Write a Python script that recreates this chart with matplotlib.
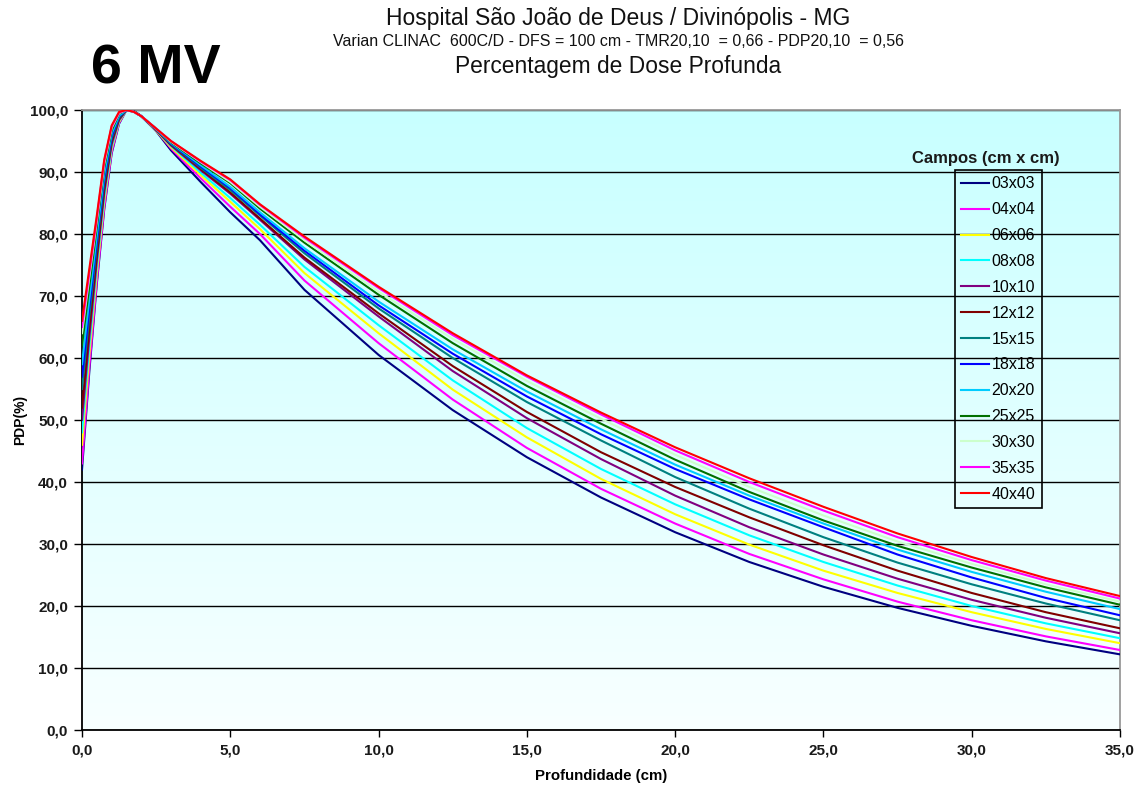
import numpy as np
import matplotlib
matplotlib.use("Agg")
import matplotlib.pyplot as plt
from matplotlib.ticker import FuncFormatter, MultipleLocator

plt.rcParams['font.family'] = ['Liberation Sans', 'DejaVu Sans']

# Depth (cm)
depth = [0, 0.25, 0.5, 0.75, 1.0, 1.25, 1.5, 1.75, 2.0, 2.5, 3.0, 4.0, 5.0, 6.0, 7.5,
         10, 12.5, 15, 17.5, 20, 22.5, 25, 27.5, 30, 32.5, 35]

fields = ["03x03", "04x04", "06x06", "08x08", "10x10", "12x12", "15x15",
          "18x18", "20x20", "25x25", "30x30", "35x35", "40x40"]

colors = ["#000080", "#ff00ff", "#ffff00", "#00ffff", "#800080", "#800000", "#008080",
          "#0000ff", "#00ccff", "#007000", "#ccffcc", "#ff00ff", "#ff0000"]

# PDP (%) per field size
pdp_03 = [42, 58.0, 72.0, 84.0, 93.0, 97.8, 100, 99.8, 99.0, 96.6, 93.5, 88.4, 83.5, 79.0, 71.0,
          60.5, 51.6, 44.0, 37.5, 31.9, 27.1, 23.1, 19.7, 16.8, 14.3, 12.2]
pdp_04 = [43, 58.7, 72.4, 84.3, 93.2, 97.9, 100, 99.8, 99.0, 96.7, 93.8, 89.0, 84.4, 80.0, 72.5,
          62.4, 53.3, 45.5, 38.9, 33.3, 28.4, 24.3, 20.7, 17.7, 15.1, 12.9]
pdp_06 = [46, 60.8, 73.8, 85.3, 93.8, 98.1, 100, 99.8, 99.0, 96.7, 94.0, 89.5, 85.2, 80.8, 73.7,
          64.0, 54.9, 47.2, 40.5, 34.8, 29.9, 25.7, 22.1, 19.0, 16.3, 14.0]
pdp_08 = [48, 62.1, 74.8, 86.0, 94.1, 98.3, 100, 99.8, 99.0, 96.8, 94.2, 89.9, 85.8, 81.5, 74.7,
          65.3, 56.4, 48.7, 42.1, 36.4, 31.4, 27.1, 23.3, 20.0, 17.2, 14.8]
pdp_10 = [50, 63.5, 75.7, 86.7, 94.5, 98.4, 100, 99.8, 99.0, 96.8, 94.3, 90.3, 86.5, 82.3, 75.9,
          66.7, 57.9, 50.3, 43.7, 37.8, 32.7, 28.3, 24.4, 21.0, 18.1, 15.6]
pdp_12 = [52, 64.9, 76.6, 87.3, 94.9, 98.6, 100, 99.8, 99.0, 96.8, 94.4, 90.5, 86.7, 82.5, 76.2,
          67.2, 58.7, 51.3, 44.8, 39.2, 34.3, 29.8, 25.7, 22.1, 19.0, 16.4]
pdp_15 = [55, 66.9, 78.0, 88.3, 95.4, 98.8, 100, 99.8, 99.0, 96.9, 94.5, 90.7, 87.1, 83.0, 76.9,
          68.0, 60.0, 52.9, 46.7, 40.8, 35.7, 31.1, 27.0, 23.5, 20.4, 17.7]
pdp_18 = [57, 68.3, 78.9, 89.0, 95.8, 99.0, 100, 99.7, 99.0, 96.9, 94.6, 90.9, 87.4, 83.2, 77.3,
          68.5, 60.7, 53.8, 47.7, 42.1, 37.2, 32.7, 28.3, 24.6, 21.3, 18.5]
pdp_20 = [59, 69.7, 79.8, 89.7, 96.2, 99.1, 100, 99.7, 99.0, 96.9, 94.7, 91.1, 87.6, 83.5, 77.7,
          69.1, 61.4, 54.6, 48.5, 42.8, 37.8, 33.3, 29.1, 25.5, 22.3, 19.5]
pdp_25 = [62, 71.7, 81.2, 90.7, 96.7, 99.4, 100, 99.7, 99.0, 97.0, 94.8, 91.4, 88.2, 84.1, 78.6,
          70.2, 62.4, 55.5, 49.4, 43.6, 38.4, 33.8, 29.7, 26.2, 23.0, 20.2]
pdp_30 = [64, 73.1, 82.1, 91.3, 97.1, 99.5, 100, 99.7, 99.0, 97.0, 94.9, 91.6, 88.4, 84.4, 79.0,
          70.7, 63.1, 56.3, 50.2, 44.4, 39.2, 34.6, 30.4, 26.8, 23.5, 20.7]
pdp_35 = [65, 73.8, 82.5, 91.7, 97.3, 99.6, 100, 99.7, 99.0, 97.0, 95.0, 91.7, 88.7, 84.7, 79.4,
          71.3, 63.7, 57.0, 50.9, 45.1, 40.0, 35.4, 31.1, 27.4, 24.1, 21.2]
pdp_40 = [66, 74.5, 83.0, 92.0, 97.5, 99.7, 100, 99.7, 99.0, 97.0, 95.0, 91.8, 88.8, 84.8, 79.6,
          71.5, 64.0, 57.2, 51.2, 45.6, 40.6, 36.0, 31.7, 27.9, 24.5, 21.6]

series = [pdp_03, pdp_04, pdp_06, pdp_08, pdp_10, pdp_12, pdp_15,
          pdp_18, pdp_20, pdp_25, pdp_30, pdp_35, pdp_40]

W, H = 1142, 785
fig = plt.figure(figsize=(W / 100, H / 100), dpi=100)
fig.patch.set_facecolor("white")
ax = fig.add_axes([82 / W, (H - 730) / H, (1120 - 82) / W, (730 - 110) / H])

# Plot-area gradient: pale cyan at the top fading towards white
top = np.array([200, 255, 255]) / 255
bot = np.array([248, 255, 255]) / 255
t = np.linspace(0, 1, 256)[:, None]
grad = (top * (1 - t) + bot * t)[:, None, :]
ax.imshow(grad, extent=[0, 1, 0, 1], transform=ax.transAxes, aspect="auto",
          zorder=0, interpolation="bilinear")

ax.set_xlim(0, 35)
ax.set_ylim(0, 100)
ax.yaxis.set_major_locator(MultipleLocator(10))
ax.xaxis.set_major_locator(MultipleLocator(5))
fmt = FuncFormatter(lambda v, p: f"{v:.1f}".replace(".", ","))
ax.xaxis.set_major_formatter(fmt)
ax.yaxis.set_major_formatter(fmt)

ax.grid(axis="y", color="black", linewidth=1.0, zorder=1)
ax.set_axisbelow(True)

for name, vals, c in zip(fields, series, colors):
    ax.plot(depth, vals, color=c, linewidth=1.5, label=name, zorder=3)

for s in ("left", "bottom"):
    ax.spines[s].set_color("black")
    ax.spines[s].set_linewidth(1.3)
for s in ("top", "right"):
    ax.spines[s].set_color("#999999")
    ax.spines[s].set_linewidth(1.3)

ax.tick_params(axis="y", direction="out", length=6, width=1, pad=4,
               labelsize=11, labelcolor="#1a1a1a")
ax.tick_params(axis="x", direction="out", length=5, width=1, pad=5,
               labelsize=11, labelcolor="#1a1a1a")
for lab in ax.get_xticklabels() + ax.get_yticklabels():
    lab.set_fontweight("bold")

ax.set_ylabel("PDP(%)", fontsize=10, fontweight="bold", labelpad=2)
ax.set_xlabel("Profundidade (cm)", fontsize=10.8, fontweight="bold", labelpad=8)

leg = ax.legend(loc="upper left", bbox_to_anchor=((955 - 82) / (1120 - 82), (730 - 170) / 620),
                frameon=True, fancybox=False, edgecolor="black",
                fontsize=11.5, handlelength=1.75, handletextpad=0.15, labelspacing=0.68,
                borderpad=0.4, borderaxespad=0)
frame = leg.get_frame()
frame.set_facecolor("none")
frame.set_edgecolor("black")
frame.set_alpha(None)
frame.set_linewidth(1.2)
leg.set_zorder(5)

fig.text(986 / W, 1 - 158 / H, "Campos (cm x cm)", fontsize=12, fontweight="bold",
         ha="center", va="center", color="#1a1a1a")

fig.text(618 / W, 1 - 18 / H, "Hospital São João de Deus / Divinópolis - MG",
         fontsize=16.5, ha="center", va="center", color="#111111")
fig.text(619 / W, 1 - 42 / H,
         "Varian CLINAC  600C/D - DFS = 100 cm - TMR20,10  = 0,66 - PDP20,10  = 0,56",
         fontsize=11.5, ha="center", va="center", color="#111111")
fig.text(618 / W, 1 - 67 / H, "Percentagem de Dose Profunda",
         fontsize=16.4, ha="center", va="center", color="#111111")
fig.text(91 / W, 1 - 70 / H, "6 MV", fontsize=40, fontweight="bold",
         ha="left", va="center", color="black")

fig.savefig("out.png", dpi=100)
